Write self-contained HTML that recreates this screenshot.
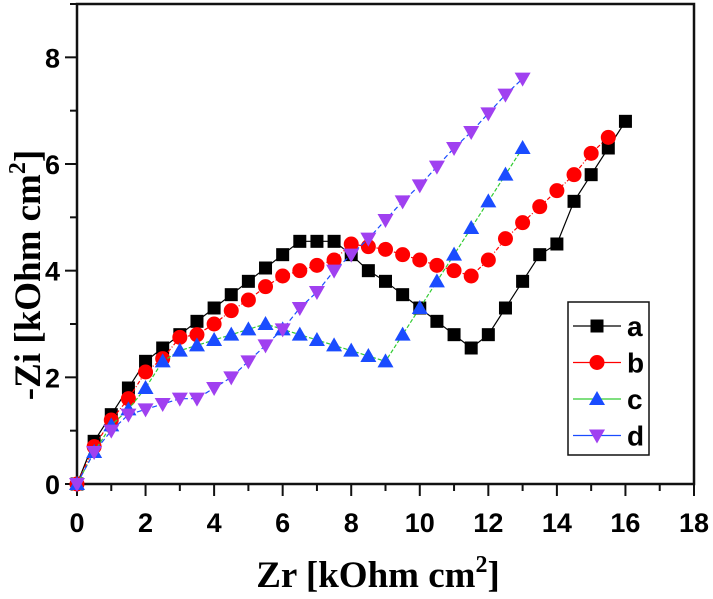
<!DOCTYPE html>
<html><head><meta charset="utf-8"><style>
body{margin:0;background:#fff;}
svg{display:block;}
.tk{font:bold 27px "Liberation Sans",sans-serif;}
.ax{font:bold 37px "Liberation Serif",serif;}
.lg{font:bold 28px "Liberation Sans",sans-serif;}
</style></head><body>
<svg id="chart" width="713" height="599" xmlns="http://www.w3.org/2000/svg">
<rect x="77" y="4" width="617" height="480" fill="none" stroke="#111" stroke-width="2.5"/>
<g id="ticks"></g>
<g id="series"></g>
<text class="ax" x="378" y="587" text-anchor="middle">Zr [kOhm cm<tspan dy="-15" font-size="24">2</tspan><tspan dy="15">]</tspan></text>
<text class="ax" transform="translate(40,275) rotate(-90)" text-anchor="middle">-Zi [kOhm cm<tspan dy="-15" font-size="24">2</tspan><tspan dy="15">]</tspan></text>
<g>
<rect x="568" y="302" width="81" height="153" fill="#fff" stroke="#111" stroke-width="1.5"/>
<g id="legend"></g>
</g>
</svg>
<script>
const xTicks=[0,2,4,6,8,10,12,14,16,18];
const yTicks=[0,2,4,6,8];
const names=['a','b','c','d'];
const xsA=[0,0.5,1,1.5,2,2.5,3,3.5,4,4.5,5,5.5,6,6.5,7,7.5,8,8.5,9,9.5,10,10.5,11,11.5,12,12.5,13,13.5,14,14.5,15,15.5,16];
const ysA=[0,0.8,1.3,1.8,2.3,2.55,2.8,3.05,3.3,3.55,3.8,4.05,4.3,4.55,4.55,4.55,4.3,4.0,3.8,3.55,3.3,3.05,2.8,2.55,2.8,3.3,3.8,4.3,4.5,5.3,5.8,6.3,6.8];
const xsB=[0,0.5,1,1.5,2,2.5,3,3.5,4,4.5,5,5.5,6,6.5,7,7.5,8,8.5,9,9.5,10,10.5,11,11.5,12,12.5,13,13.5,14,14.5,15,15.5];
const ysB=[0,0.7,1.2,1.6,2.1,2.35,2.75,2.8,3.0,3.25,3.45,3.7,3.9,4.0,4.1,4.2,4.5,4.45,4.4,4.3,4.2,4.1,4.0,3.9,4.2,4.6,4.9,5.2,5.5,5.8,6.2,6.5];
const xsC=[0,0.5,1,1.5,2,2.5,3,3.5,4,4.5,5,5.5,6,6.5,7,7.5,8,8.5,9,9.5,10,10.5,11,11.5,12,12.5,13];
const ysC=[0,0.6,1.1,1.4,1.8,2.3,2.5,2.6,2.7,2.8,2.9,3.0,2.9,2.8,2.7,2.6,2.5,2.4,2.3,2.8,3.3,3.8,4.3,4.8,5.3,5.8,6.3];
const xsD=[0,0.5,1,1.5,2,2.5,3,3.5,4,4.5,5,5.5,6,6.5,7,7.5,8,8.5,9,9.5,10,10.5,11,11.5,12,12.5,13];
const ysD=[0,0.6,1.0,1.3,1.4,1.5,1.6,1.6,1.8,2.0,2.3,2.6,2.9,3.3,3.6,4.0,4.3,4.6,4.95,5.3,5.6,5.95,6.3,6.6,6.95,7.3,7.6];
const NS='http://www.w3.org/2000/svg';
const X=v=>77+v*617/18, Y=v=>484-v*480/9;
function mk(t,a,p){const e=document.createElementNS(NS,t);for(const k in a)e.setAttribute(k,a[k]);p.appendChild(e);return e;}
const tg=document.getElementById('ticks');
for(let v=0;v<=18;v++){const l=mk('line',{x1:X(v),x2:X(v),y1:484,y2:v%2?491:496,stroke:'#111','stroke-width':2},tg);

}
for(let v=0;v<=9;v++){const l=mk('line',{x1:v%2?70:65,x2:77,y1:Y(v),y2:Y(v),stroke:'#111','stroke-width':2},tg);

}
xTicks.forEach(v=>{const t=mk('text',{x:X(v),y:532,'text-anchor':'middle',class:'tk'},tg);t.textContent=v;

});
yTicks.forEach(v=>{const t=mk('text',{x:60,y:Y(v)+10,'text-anchor':'end',class:'tk'},tg);t.textContent=v;

});
const S=[{xs:xsA,ys:ysA,lc:'#000',dash:'',mc:'#000',m:'sq'},
{xs:xsB,ys:ysB,lc:'#f00',dash:'4 2 1 2',mc:'#f00',m:'ci'},
{xs:xsC,ys:ysC,lc:'#3c3',dash:'4 2',mc:'#1a4cff',m:'tu'},
{xs:xsD,ys:ysD,lc:'#1a4cff',dash:'5 3',mc:'#a040f0',m:'td'}];
function marker(m,x,y,c,p){
 if(m==='sq')return mk('rect',{x:x-6.5,y:y-6.5,width:13,height:13,fill:c},p);
 if(m==='ci')return mk('circle',{cx:x,cy:y,r:7.5,fill:c},p);
 if(m==='tu')return mk('polygon',{points:`${x},${y-8} ${x-8},${y+6} ${x+8},${y+6}`,fill:c},p);
 return mk('polygon',{points:`${x},${y+8} ${x-8},${y-6} ${x+8},${y-6}`,fill:c},p);}
const sg=document.getElementById('series'),lg=document.getElementById('legend');
S.forEach((s,i)=>{
 const g=mk('g',{},sg);
 
 
 const pl=mk('polyline',{points:s.xs.map((x,j)=>X(x)+','+Y(s.ys[j])).join(' '),fill:'none',stroke:s.lc,'stroke-width':1.2,'stroke-dasharray':s.dash},g);
 
 
 s.xs.forEach((x,j)=>{const e=marker(s.m,X(x),Y(s.ys[j]),s.mc,g);
  
  });
 const ly=326+i*36.5;
 const le=mk('g',{},lg);
 
 
 mk('line',{x1:573,x2:621,y1:ly,y2:ly,stroke:s.lc,'stroke-width':1.2},le);
 marker(s.m,597,ly,s.mc,le);
 const t=mk('text',{x:627,y:ly+10,class:'lg'},le);t.textContent=names[i];
});
</script>
</body></html>
